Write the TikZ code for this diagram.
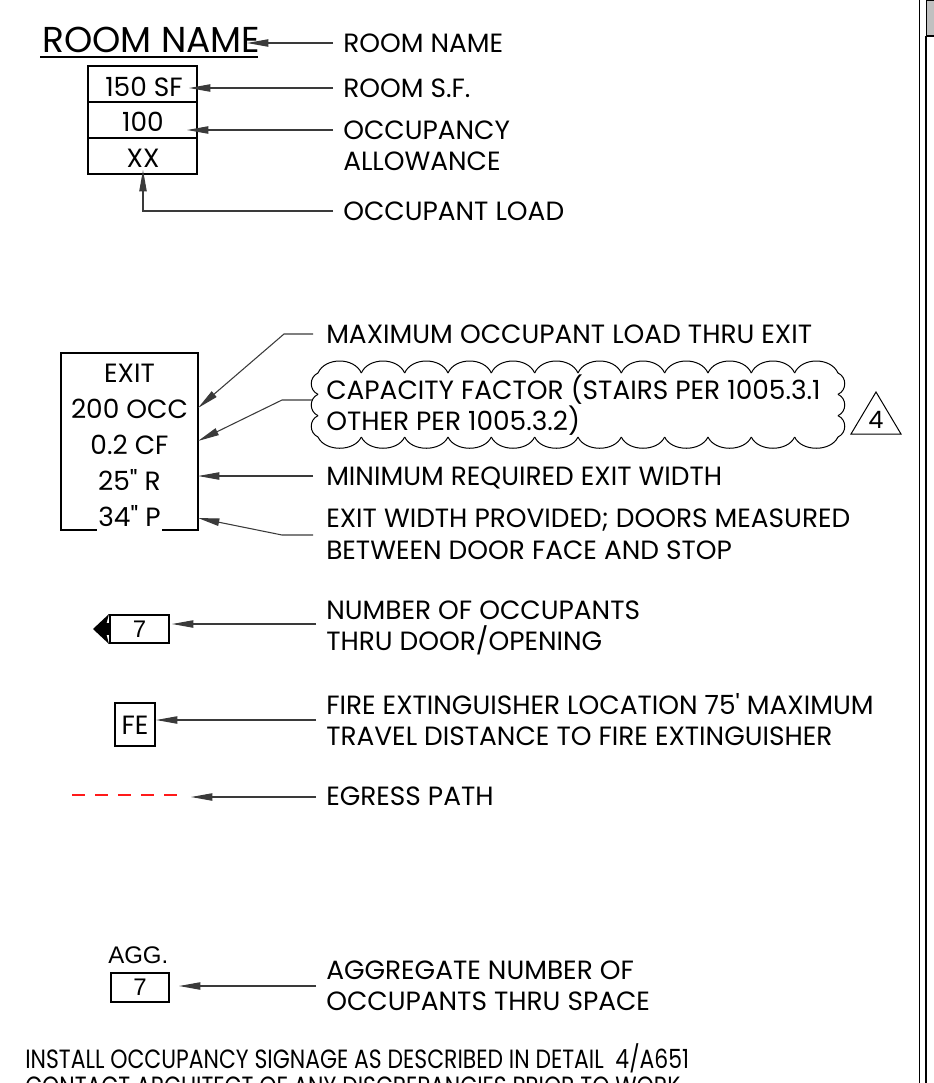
\documentclass[tikz,border=0pt]{standalone}
\usepackage{fontspec}
\setmainfont{Poppins}
\newfontfamily\arialfont{Liberation Sans}
\usetikzlibrary{arrows.meta, positioning}
\definecolor{lgInk}{HTML}{000000}
\definecolor{lgLead}{HTML}{3a3a3a}
\definecolor{lgRed}{HTML}{FF1A1A}
\definecolor{lgTab}{HTML}{C0C0C0}

\begin{document}
\begin{tikzpicture}[x=0.75pt, y=-0.75pt, font=\fontsize{19.8}{24}\selectfont,
    lbl/.style={anchor=west, inner sep=0pt, text height=13.8pt, text depth=0pt},
    val/.style={anchor=base, inner sep=0pt},
    frame/.style={draw=lgInk, line width=2.1pt},
    thinframe/.style={draw=lgInk, line width=1.3pt},
    ldr/.style={draw=lgLead, line width=0.8pt, -{Triangle[length=16pt, width=5.5pt]}},
    cloudln/.style={draw=lgInk, line width=0.75pt}]
  \useasboundingbox (0,0) rectangle (934,1083);

  % sheet border
  \fill[lgTab, draw=lgInk, line width=0.6pt] (926,0) rectangle (934,36);
  \draw[lgInk, line width=2.1pt] (926,36) -- (934,36);
  \draw[lgInk, line width=0.9pt] (919.5,0) -- (919.5,1083);
  \draw[lgInk, line width=2.1pt] (926,36) -- (926,1083);

  % room tag
  \node[anchor=base west, inner sep=0pt, font=\fontsize{27}{32}\selectfont] (rname) at (42,52) {ROOM NAME};
  \draw[lgInk, line width=2.2pt] (40,57) -- (258,57);
  \draw[frame] (88,66) rectangle (197,174) (88,102) -- (197,102) (88,138) -- (197,138);
  \node[val] (rsf) at (144,96) {150 SF};
  \node[val] (rocc) at (143,131) {100};
  \node[val] (rload) at (143,167) {XX};

  \node[lbl] (lname) at (343,43) {ROOM NAME};
  \node[lbl] (lsf) at (343,88) {ROOM S.F.};
  \node[lbl] (locc) at (343,130) {OCCUPANCY};
  \node[lbl] (locc2) at (343,161) {ALLOWANCE};
  \node[lbl] (lload) at (343,211) {OCCUPANT LOAD};

  \coordinate (tname) at (247,43);
  \coordinate (tsf) at (189,88);
  \coordinate (tocc) at (187,130);
  \coordinate (tload) at (143,170);
  \draw[ldr] ([xshift=-7.5pt]lname.west) -- (tname);
  \draw[ldr] ([xshift=-7.5pt]lsf.west) -- (tsf);
  \draw[ldr] ([xshift=-7.5pt]locc.west) -- (tocc);
  \draw[ldr] ([xshift=-7.5pt]lload.west) -| (tload);

  % exit tag
  \draw[frame] (61,353) rectangle (198,530);
  \node[val] (ex1) at (129.5,382) {EXIT};
  \node[val] (ex2) at (129.5,418) {200 OCC};
  \node[val] (ex3) at (129.5,454) {0.2 CF};
  \node[val] (ex4) at (129.5,490) {25\textquotedbl{} R};
  \node[val, fill=white, text depth=0pt, inner xsep=1pt, inner ysep=4pt] (ex5) at (129.5,526) {34\textquotedbl{} P};

  \node[lbl] (lmax) at (326,334) {MAXIMUM OCCUPANT LOAD THRU EXIT};
  \node[lbl] (lcf) at (326,390) {CAPACITY FACTOR (STAIRS PER 1005.3.1};
  \node[lbl] (lcf2) at (326,421) {OTHER PER 1005.3.2)};
  \node[lbl] (lmin) at (326,476) {MINIMUM REQUIRED EXIT WIDTH};
  \node[lbl] (lwid) at (326,518) {EXIT WIDTH PROVIDED; DOORS MEASURED};
  \node[lbl] (lwid2) at (326,550) {BETWEEN DOOR FACE AND STOP};

  % revision cloud
  \foreach \i [evaluate=\i as \xa using 318+43.33*\i] in {0,...,11} {
    \draw[cloudln] (\xa,373) .. controls ({\xa+7},357) and ({\xa+36.3},357) .. ({\xa+43.33},373);
    \draw[cloudln] (\xa,437) .. controls ({\xa+7},452) and ({\xa+36.3},452) .. ({\xa+43.33},437);
  }
  \foreach \j [evaluate=\j as \ya using 373+21.33*\j] in {0,1,2} {
    \draw[cloudln] (318,\ya) .. controls (309,{\ya+4}) and (309,{\ya+17.3}) .. (318,{\ya+21.33});
    \draw[cloudln] (838,\ya) .. controls (847,{\ya+4}) and (847,{\ya+17.3}) .. (838,{\ya+21.33});
  }
  \draw[lgInk, line width=0.75pt] (851,434) -- (876,392) -- (901,434) -- cycle;
  \node[val, font=\fontsize{18}{22}\selectfont] (rev) at (876,428) {4};

  \coordinate (tmax) at (198,408);
  \coordinate (ccf) at (312,400);
  \coordinate (tcf) at (198,441);
  \coordinate (tmin) at (198,476);
  \coordinate (twid) at (198,518);
  \draw[ldr] ([xshift=-9.75pt]lmax.west) -- (284,334) -- (tmax);
  \draw[ldr] (ccf) -- (282,400) -- (tcf);
  \draw[ldr] ([xshift=-9.75pt]lmin.west) -- (tmin);
  \draw[ldr] ([shift={(-9.75pt,-12.75pt)}]lwid.west) -- (282,535) -- (twid);

  % door count
  \draw[thinframe] (110,615) rectangle (169,643);
  \node[font=\arialfont\fontsize{18}{22}\selectfont, inner sep=0pt] (dnum) at (139.5,629) {7};
  \fill[lgInk] (93,629) -- (109,614) -- (105,629) -- (109,644) -- cycle;
  \fill[lgInk] (100,623) rectangle (109,635);
  \node[lbl] (ldoor) at (326,610) {NUMBER OF OCCUPANTS};
  \node[lbl] (ldoor2) at (326,641) {THRU DOOR/OPENING};
  \coordinate (tdoor) at (172,624);
  \draw[ldr] ([shift={(-7.5pt,-10.5pt)}]ldoor.west) -- (tdoor);

  % extinguisher
  \draw[frame] (115,703) rectangle (155,746);
  \node[val] (fe) at (135,734) {FE};
  \node[lbl] (lfe) at (326,705) {FIRE EXTINGUISHER LOCATION 75\textquotesingle{} MAXIMUM};
  \node[lbl] (lfe2) at (326,736) {TRAVEL DISTANCE TO FIRE EXTINGUISHER};
  \coordinate (tfe) at (156,720);
  \draw[ldr] ([shift={(-7.5pt,-11.25pt)}]lfe.west) -- (tfe);

  % egress
  \draw[lgRed, line width=1.5pt, dash pattern=on 9.75pt off 7.5pt] (72,795) -- (177,795);
  \node[lbl] (legr) at (326,796) {EGRESS PATH};
  \coordinate (tegr) at (191,797);
  \draw[ldr] ([shift={(-7.5pt,-0.75pt)}]legr.west) -- (tegr);

  % aggregate
  \node[anchor=base west, inner sep=0pt, font=\arialfont\fontsize{18}{22}\selectfont] (agg) at (108,963) {AGG.};
  \draw[thinframe] (111,973) rectangle (169,1002);
  \node[font=\arialfont\fontsize{18}{22}\selectfont, inner sep=0pt] (anum) at (140,987.5) {7};
  \node[lbl] (lagg) at (326,970) {AGGREGATE NUMBER OF};
  \node[lbl] (lagg2) at (326,1001) {OCCUPANTS THRU SPACE};
  \coordinate (tagg) at (179,986);
  \draw[ldr] ([shift={(-7.5pt,-12pt)}]lagg.west) -- (tagg);

  % notes
  \node[anchor=base west, inner sep=0pt] (note) at (25,1068) {\scalebox{0.83}[1]{INSTALL OCCUPANCY SIGNAGE AS DESCRIBED IN DETAIL\ \ 4/A651}};
  \node[anchor=base west, inner sep=0pt] (note2) at (25,1095) {\scalebox{0.83}[1]{CONTACT ARCHITECT OF ANY DISCREPANCIES PRIOR TO WORK}};
\end{tikzpicture}
\end{document}
